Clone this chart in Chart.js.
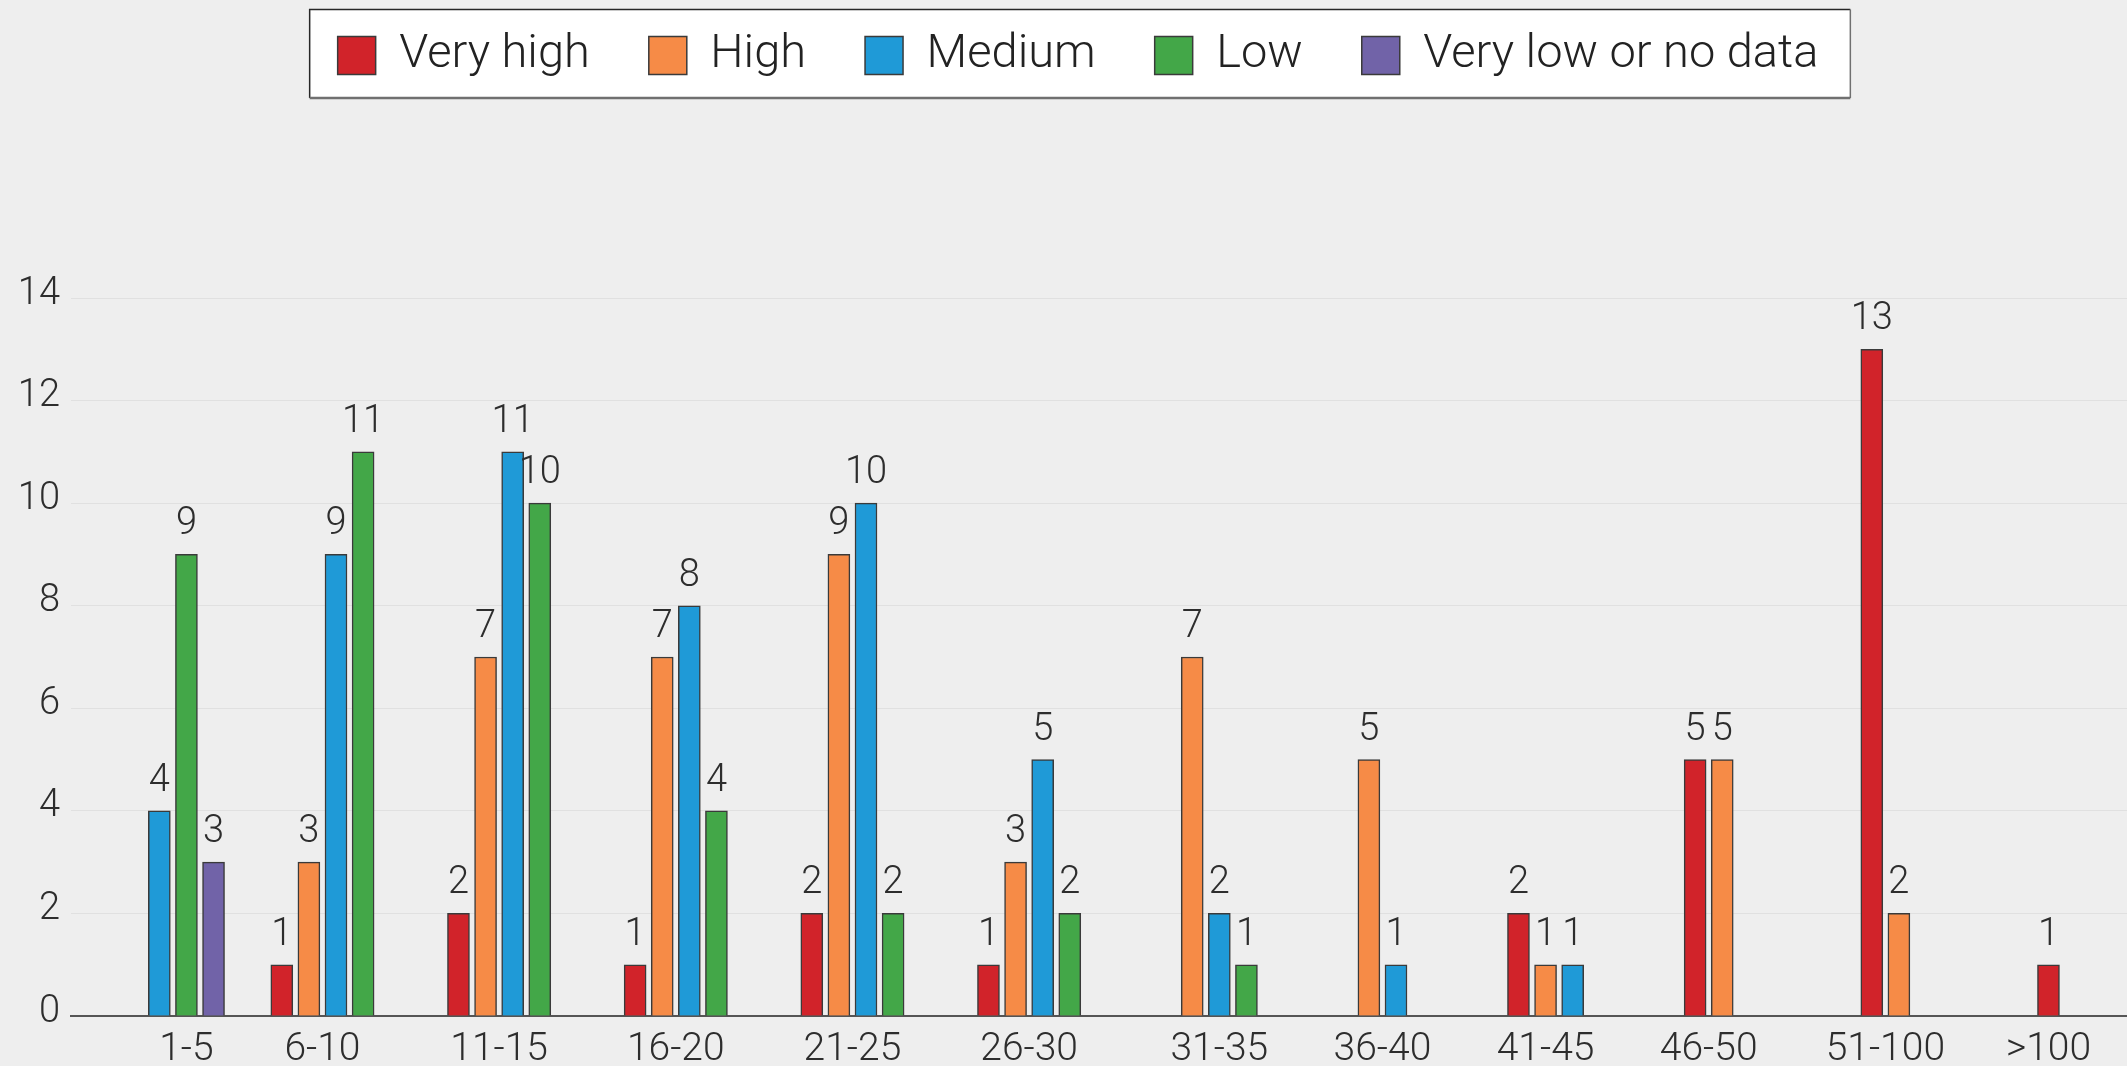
<!DOCTYPE html>
<html>
<head>
<meta charset="utf-8">
<title>Bars by range</title>
<script src="https://cdn.jsdelivr.net/npm/chart.js@4.4.1/dist/chart.umd.min.js"></script>
<style>
    html, body {
        margin: 0;
        padding: 0;
        background: #eeeeee;
        overflow: hidden;
        width: 2127px;
        height: 1066px;
    }
    .chart-wrap {
        position: absolute;
        left: -35px;
        top: -27px;
        width: 2226px;
        height: 1093px;
    }
</style>
</head>
<body>
<div class="chart-wrap">
    <canvas id="rangeChart"></canvas>
</div>
<script>
const rangeLabels = ['1-5', '6-10', '11-15', '16-20', '21-25', '26-30', '31-35', '36-40', '41-45', '46-50', '51-100', '>100'];

const veryHigh = [null, 1, 2, 1, 2, 1, null, null, 2, 5, 13, 1];
const high = [null, 3, 7, 7, 9, 3, 7, 5, 1, 5, 2, null];
const medium = [4, 9, 11, 8, 10, 5, 2, 1, 1, null, null, null];
const low = [9, 11, 10, 4, 2, 2, 1, null, null, null, null, null];
const veryLow = [3, null, null, null, null, null, null, null, null, null, null, null];

const yTicks = [0, 2, 4, 6, 8, 10, 12, 14];

const fontFamily = 'Roboto, "Open Sans", "Liberation Sans", sans-serif';
const textColor = '#2d2d2d';

function makeSet(label, data, color)
{
    return {
        label: label,
        data: data,
        backgroundColor: color,
        borderColor: '#3a3a3a',
        borderWidth: 1.5,
        barThickness: 27.1,
        maxBarThickness: 22
    };
}

// room between the legend and the plot
const legendSpacer = {
    id: 'legendSpacer',
    beforeInit(chart) {
        const originalFit = chart.legend.fit;
        chart.legend.fit = function () {
            originalFit.call(this);
            this.height += 209;
        };
    }
};

// white framed box behind the legend items
const legendFrame = {
    id: 'legendFrame',
    beforeDraw(chart) {
        const boxes = chart.legend.legendHitBoxes;
        if (!boxes || !boxes.length) return;
        const first = boxes[0];
        const last = boxes[boxes.length - 1];
        const left = first.left - 28;
        const right = last.left + last.width + 32;
        const top = first.top - 22.5;
        const bottom = first.top + first.height + 19;
        const ctx = chart.ctx;
        ctx.save();
        ctx.fillStyle = '#ffffff';
        ctx.fillRect(left, top, right - left, bottom - top);
        ctx.lineWidth = 1.5;
        ctx.strokeStyle = '#262626';
        ctx.beginPath();
        ctx.moveTo(left, bottom);
        ctx.lineTo(left, top);
        ctx.lineTo(right, top);
        ctx.stroke();
        ctx.strokeStyle = '#707070';
        ctx.beginPath();
        ctx.moveTo(right, top);
        ctx.lineTo(right, bottom);
        ctx.stroke();
        ctx.lineWidth = 2.5;
        ctx.beginPath();
        ctx.moveTo(left, bottom);
        ctx.lineTo(right, bottom);
        ctx.stroke();
        ctx.restore();
    }
};

// numbers above each bar
const valueLabels = {
    id: 'valueLabels',
    afterDatasetsDraw(chart) {
        const ctx = chart.ctx;
        ctx.save();
        ctx.font = '300 38px ' + fontFamily;
        ctx.fillStyle = textColor;
        ctx.textAlign = 'center';
        ctx.textBaseline = 'alphabetic';
        chart.data.datasets.forEach((ds, i) => {
            chart.getDatasetMeta(i).data.forEach((bar, j) => {
                const v = ds.data[j];
                if (v === null || v === undefined) return;
                ctx.fillText(String(v), bar.x, bar.y - 20);
            });
        });
        ctx.restore();
    }
};

// range names sit under the middle of the bars that are present
const rangeNames = {
    id: 'rangeNames',
    afterDraw(chart) {
        const xScale = chart.scales.x;
        const ctx = chart.ctx;
        ctx.save();
        ctx.font = '300 39px ' + fontFamily;
        ctx.fillStyle = textColor;
        ctx.textAlign = 'center';
        ctx.textBaseline = 'middle';
        rangeLabels.forEach((name, j) => {
            const xs = [];
            chart.data.datasets.forEach((ds, i) => {
                if (ds.data[j] !== null && ds.data[j] !== undefined) {
                    xs.push(chart.getDatasetMeta(i).data[j].x);
                }
            });
            let x = xScale.getPixelForValue(j);
            if (xs.length) {
                x = (Math.min(...xs) + Math.max(...xs)) / 2;
            }
            ctx.fillText(name, x, xScale.top + 34);
        });
        ctx.restore();
    }
};

const ctx = document.getElementById('rangeChart').getContext('2d');
const rangeChart = new Chart(ctx, {
    type: 'bar',
    data: {
        labels: rangeLabels,
        datasets: [
            makeSet('Very high', veryHigh, '#d1232a'),
            makeSet('High', high, '#f68b47'),
            makeSet('Medium', medium, '#1f9ad7'),
            makeSet('Low', low, '#43a748'),
            makeSet('Very low or no data', veryLow, '#7163a8')
        ]
    },
    options: {
        responsive: true,
        maintainAspectRatio: false,
        animation: false,
        layout: {
            padding: 0
        },
        plugins: {
            legend: {
                position: 'top',
                align: 'center',
                labels: {
                    boxWidth: 38,
                    boxHeight: 38,
                    padding: 59,
                    color: '#222222',
                    font: { family: fontFamily, size: 47, weight: '300' }
                }
            },
            tooltip: { enabled: false }
        },
        scales: {
            x: {
                afterFit(scale) {
                    scale.height = 50;
                },
                grid: { display: false, drawTicks: false },
                border: { display: true, color: '#555555', width: 2 },
                ticks: { display: false }
            },
            y: {
                min: yTicks[0],
                max: yTicks[yTicks.length - 1],
                afterFit(scale) {
                    scale.width = 106;
                },
                afterBuildTicks(scale) {
                    scale.ticks = yTicks.map(v => ({ value: v }));
                },
                grid: { color: '#e0e0e0', lineWidth: 1, drawTicks: false },
                border: { display: false },
                ticks: {
                    color: textColor,
                    padding: 11,
                    labelOffset: -4,
                    font: { family: fontFamily, size: 38, weight: '300' }
                }
            }
        }
    },
    plugins: [legendSpacer, legendFrame, valueLabels, rangeNames]
});
</script>
</body>
</html>
